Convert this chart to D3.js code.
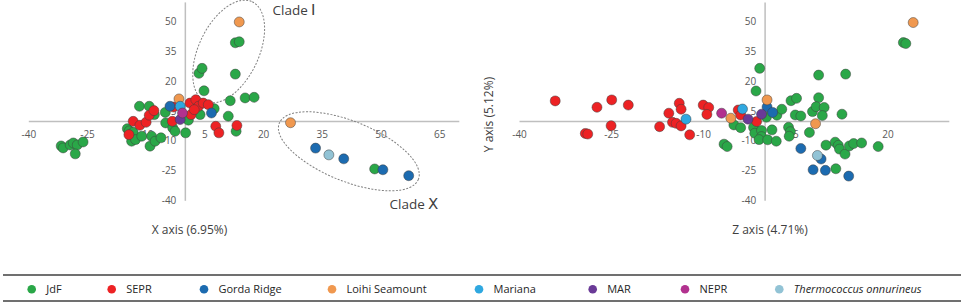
<!DOCTYPE html>
<html>
<head>
<meta charset="utf-8">
<script src="https://cdn.jsdelivr.net/npm/d3@7"></script>
<style>
  body { margin: 0; background: #fff; }
  svg { display: block; font-family: 'Open Sans', sans-serif; }
</style>
</head>
<body>
<svg id="chart" width="964" height="304"></svg>
<script>
// ------------------
// Data
// ------------------
const groupNames = ['JdF', 'SEPR', 'Gorda Ridge', 'Loihi Seamount', 'Mariana', 'MAR', 'NEPR', 'Thermococcus onnurineus']
const groupColors = ['#2aa748', '#ed2224', '#1c6bb0', '#f0984f', '#2fa8e0', '#6a3a97', '#b2318f', '#92c3d5']

const xTicksLeft = [-40, -25, -10, 5, 20, 35, 50, 65]
const xTicksRight = [-40, -25, -10, 5, 20]
const yTicks = [-40, -25, -10, 5, 20, 35, 50]

// left panel: [X axis, Y axis]
const jdfXY = [[-31.6, -12.6], [-31.1, -13.6], [-29.3, -12.1], [-28.5, -11.1], [-27.5, -12.1], [-26.0, -10.6], [-28.0, -16.6],
  [-11.6, 7.4], [-9.1, 7.4], [-7.8, 3.2], [-14.7, -3.9], [-14.2, -5.0], [-13.2, -5.7], [-13.6, -10.2], [-12.6, -9.4], [-11.0, -7.7],
  [-8.5, -7.7], [-8.9, -12.7], [-7.6, -10.2], [-6.1, -8.5], [-5.0, 4.3], [-4.9, -1.0], [-3.1, -3.5], [-2.5, -5.2], [0.2, -6.0],
  [0.9, 0.4], [3.9, 3.2], [4.9, 15.2], [7.5, 6.2], [11.6, 10.2], [15.4, 11.6], [17.7, 11.9], [11.1, 2.4], [13.1, -5.2],
  [12.9, 39.4], [13.9, 39.9], [12.9, 23.6], [3.6, 24.0], [4.4, 26.5], [48.5, -24.2]]
const seprXY = [[-13.2, -0.2], [-11.5, -2.2], [-9.9, -0.7], [-9.1, 2.9], [-7.9, 5.2], [-14.3, -6.9], [-3.2, -0.2], [-2.9, 7.0],
  [1.3, 9.0], [2.8, 10.7], [3.5, 7.4], [4.7, 9.0], [6.0, 8.2], [1.6, 3.2], [2.4, 5.7], [7.9, -2.7], [8.7, -6.0], [13.3, -2.3]]
const gordaXY = [[-3.8, 7.4], [6.8, 4.0], [33.4, -13.7], [40.6, -19.1], [50.6, -24.6], [57.2, -27.6]]
const loihiXY = [[-1.5, 11.1], [13.9, 49.9], [27.0, -0.9]]
const marianaXY = [[-1.2, 7.4]]
const marXY = [[-1.2, 0.7]]
const neprXY = [[-0.6, 4.0]]
const thermoXY = [[36.8, -17.1]]

// right panel: [Z axis, Y axis]
const jdfZY = [[-0.8, 26.5], [-1.4, 15.1], [0.3, 1.9], [2.0, 2.9], [2.8, 5.9], [4.3, 10.2], [5.2, 11.4], [5.0, 3.0], [5.9, 2.5],
  [8.8, 23.1], [13.2, 23.6], [8.8, 11.7], [7.8, 4.7], [8.4, 7.2], [9.7, 6.8], [9.4, 2.7], [12.6, 3.4], [22.6, 39.5], [23.0, 39.0],
  [-5.0, -2.0], [-3.9, -3.4], [-1.8, -3.3], [-1.6, -6.2], [-0.5, -4.8], [-0.5, -7.9], [-0.9, -9.4], [0.5, -9.5], [1.9, -10.2],
  [1.2, -4.5], [3.9, -3.2], [4.2, -5.4], [4.0, -7.7], [7.3, -5.8], [-6.6, -11.7], [-6.1, -12.9], [10.0, -12.2], [11.5, -10.7],
  [12.0, -12.3], [12.2, -14.2], [13.1, -16.7], [13.8, -12.6], [14.5, -11.4], [15.8, -11.1], [18.5, -12.9], [11.6, -24.1]]
const seprZY = [[-34.1, 10.1], [-29.2, -6.3], [-28.8, -6.6], [-27.3, 6.9], [-24.9, 10.6], [-25.0, -2.4], [-22.2, 8.0],
  [-17.1, -2.9], [-15.6, 3.9], [-13.9, 8.9], [-13.6, 5.9], [-15.0, -0.7], [-14.4, -1.2], [-13.6, -2.5], [-12.2, -7.0],
  [-10.0, 8.0], [-9.1, 6.8], [-9.4, 3.3], [-4.3, 5.5], [-3.9, 3.0], [-1.3, -0.3]]
const gordaZY = [[0.4, 7.0], [1.3, 4.3], [5.9, -13.9], [9.2, -19.2], [7.9, -24.6], [9.9, -24.9], [13.7, -27.8]]
const loihiZY = [[24.2, 49.6], [0.4, 10.6], [-5.5, 1.4], [8.3, -1.4]]
const marianaZY = [[-3.6, 6.0], [-12.8, 0.9]]
const marZY = [[-2.7, 0.9], [-0.5, 3.4]]
const neprZY = [[-7.0, 3.9]]
const thermoZY = [[8.6, -17.4]]

const seriesXY = [jdfXY, seprXY, gordaXY, loihiXY, marianaXY, marXY, neprXY, thermoXY]
const seriesZY = [jdfZY, seprZY, gordaZY, loihiZY, marianaZY, marZY, neprZY, thermoZY]

// ------------------
// Layout
// ------------------
const svg = d3.select('#chart')
const yDomain = [-40, 60]
const yRange = [200.3, 1.9]

const panels = [
  {
    xDomain: [-40, 70], xRange: [28.3, 458.8], xTicks: xTicksLeft, series: seriesXY,
    ellipses: [
      { cx: 11.2, cy: 35.0, rx: 55, ry: 30, angle: -64.6, label: 'Clade ', numeral: 'Ⅰ', lx: 272.5, ly: 14.5 },
      { cx: 41.9, cy: -15.3, rx: 75, ry: 30, angle: 22, label: 'Clade ', numeral: 'Ⅹ', lx: 389.5, ly: 209 }
    ]
  },
  { xDomain: [-40, 30], xRange: [519, 948.8], xTicks: xTicksRight, series: seriesZY, ellipses: [] }
]

panels.forEach(p => {
  const x = d3.scaleLinear().domain(p.xDomain).range(p.xRange)
  const y = d3.scaleLinear().domain(yDomain).range(yRange)
  const g = svg.append('g')

  // Axes crossing at the origin
  const xAxis = g.append('g')
    .attr('transform', `translate(0,${y(0)})`)
    .call(d3.axisBottom(x).tickValues(p.xTicks).tickFormat(d => String(d))
      .tickSize(0).tickSizeOuter(0).tickPadding(10))

  const yAxis = g.append('g')
    .attr('transform', `translate(${x(0)},0)`)
    .call(d3.axisLeft(y).tickValues(yTicks).tickFormat(d => String(d))
      .tickSize(0).tickSizeOuter(0).tickPadding(8.5))

  ;[xAxis, yAxis].forEach(a => {
    a.attr('font-family', null).attr('font-size', null)
    a.select('.domain').attr('stroke', '#bfbfbf').attr('stroke-width', 1.5)
    a.selectAll('text').attr('fill', '#595959').attr('font-size', 10)
  })

  // Clade outlines
  p.ellipses.forEach(e => {
    g.append('ellipse')
      .attr('transform', `translate(${x(e.cx)},${y(e.cy)}) rotate(${e.angle})`)
      .attr('rx', e.rx)
      .attr('ry', e.ry)
      .attr('fill', 'none')
      .attr('stroke', '#808080')
      .attr('stroke-width', 1)
      .attr('stroke-dasharray', '2,1.5')

    const t = g.append('text')
      .attr('x', e.lx)
      .attr('y', e.ly)
      .attr('font-size', 13.5)
      .attr('fill', '#404040')
    t.append('tspan').text(e.label)
    t.append('tspan').attr('font-family', "'Liberation Serif', serif").attr('font-size', 15).text(e.numeral)
  })

  // Points
  p.series.forEach((pts, i) => {
    g.selectAll(null)
      .data(pts)
      .join('circle')
      .attr('cx', d => x(d[0]))
      .attr('cy', d => y(d[1]))
      .attr('r', 5)
      .attr('fill', groupColors[i])
      .attr('stroke', '#404040')
      .attr('stroke-opacity', 0.7)
      .attr('stroke-width', 0.7)
  })
})

// ------------------
// Axis titles
// ------------------
svg.append('text')
  .attr('x', 189.5).attr('y', 233.5)
  .attr('text-anchor', 'middle')
  .attr('font-size', 12).attr('fill', '#404040')
  .text('X axis (6.95%)')

svg.append('text')
  .attr('x', 770).attr('y', 233.5)
  .attr('text-anchor', 'middle')
  .attr('font-size', 12).attr('fill', '#404040')
  .text('Z axis (4.71%)')

svg.append('text')
  .attr('transform', 'translate(492.5,114.5) rotate(-90)')
  .attr('text-anchor', 'middle')
  .attr('font-size', 12).attr('fill', '#404040')
  .text('Y axis (5.12%)')

// ------------------
// Legend
// ------------------
const legendX = [31.7, 111.7, 204, 332, 479, 592.7, 685, 779.3]
const legendY = 289.3

svg.append('line')
  .attr('x1', 3).attr('x2', 961).attr('y1', 275).attr('y2', 275)
  .attr('stroke', '#404040').attr('stroke-width', 1.3)
svg.append('line')
  .attr('x1', 3).attr('x2', 961).attr('y1', 301).attr('y2', 301)
  .attr('stroke', '#404040').attr('stroke-width', 1.3)

const legend = svg.selectAll('.legend-item')
  .data(groupNames)
  .join('g')
  .attr('class', 'legend-item')
  .attr('transform', (d, i) => `translate(${legendX[i]},${legendY})`)

legend.append('circle')
  .attr('r', 4.3)
  .attr('fill', (d, i) => groupColors[i])

legend.append('text')
  .attr('x', 14.5)
  .attr('y', 4)
  .attr('font-size', 11)
  .attr('fill', '#262626')
  .attr('font-style', (d, i) => i === 7 ? 'italic' : null)
  .text(d => d)
</script>
</body>
</html>
